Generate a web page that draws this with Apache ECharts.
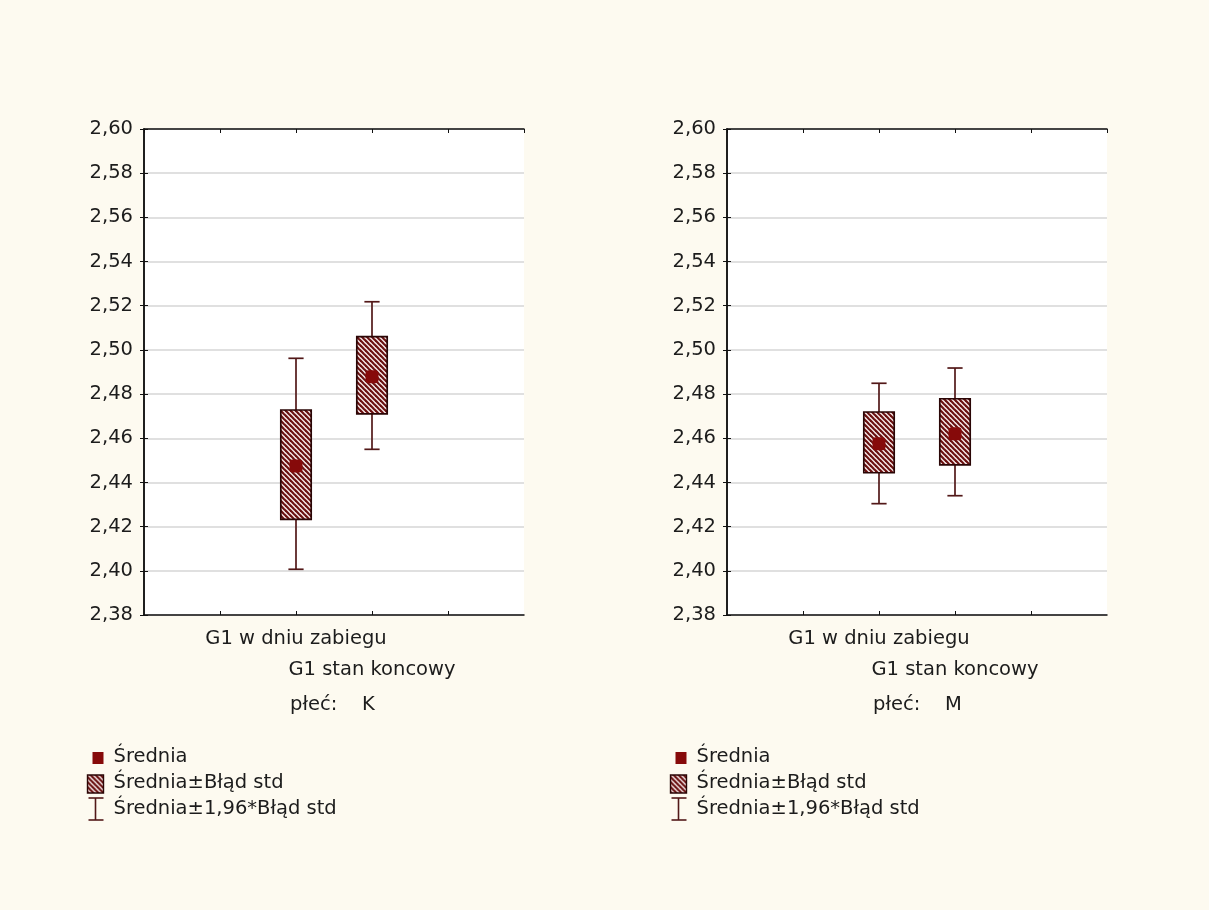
<!DOCTYPE html>
<html>
<head>
<meta charset="utf-8">
<script src="https://cdn.jsdelivr.net/npm/echarts@6/dist/echarts.min.js"></script>
<style>
  html, body { margin: 0; padding: 0; background: #fdfaf0; }
  #chart { width: 1209px; height: 910px; }
</style>
</head>
<body>
<div id="chart"></div>
<script>
// Variables shown on the x axis
const categories = ['G1 w dniu zabiegu', 'G1 stan koncowy'];
// Slots on the 0..5 x scale where the two variables sit
const categorySlots = [2, 3];
// Panels (grouping by sex)
const groups = ['K', 'M'];

// Group K: mean, mean ± std error, mean ± 1.96*std error
const meanK   = [2.4475, 2.4878];
const seLowK  = [2.4233, 2.4710];
const seHighK = [2.4728, 2.5060];
const ciLowK  = [2.4007, 2.4550];
const ciHighK = [2.4962, 2.5218];

// Group M
const meanM   = [2.4575, 2.4620];
const seLowM  = [2.4444, 2.4480];
const seHighM = [2.4719, 2.4779];
const ciLowM  = [2.4304, 2.4340];
const ciHighM = [2.4849, 2.4918];

// Y scale
const yMin = 2.38, yMax = 2.60, yStep = 0.02;

const legendLabels = ['Średnia', 'Średnia±Błąd std', 'Średnia±1,96*Błąd std'];
const groupLabel = 'płeć:';

const FONT = 'DejaVu Sans';
const FS = 19.5;
const MAROON = '#860a0a';
const OUTLINE = '#2a0606';
const WHISKER = '#521818';
const TEXT = '#1c1c1c';

// Diagonal hatch tile (stripes running top-left to bottom-right)
function makeHatch() {
  const s = 5;
  const c = document.createElement('canvas');
  c.width = s; c.height = s;
  const g = c.getContext('2d');
  g.fillStyle = '#f8eeee';
  g.fillRect(0, 0, s, s);
  g.strokeStyle = '#6a1010';
  g.lineWidth = 2.2;
  for (let k = -1; k <= 1; k++) {
    g.beginPath();
    g.moveTo(-1, k * s - 1);
    g.lineTo(s + 1, s + k * s + 1);
    g.stroke();
  }
  return c;
}
const hatch = { image: makeHatch(), repeat: 'repeat' };

const panels = [
  { left: 144, mean: meanK, seLow: seLowK, seHigh: seHighK, ciLow: ciLowK, ciHigh: ciHighK },
  { left: 727, mean: meanM, seLow: seLowM, seHigh: seHighM, ciLow: ciLowM, ciHigh: ciHighM }
];
const GRID_W = 380, GRID_TOP = 129, GRID_H = 486;

const grids = [], xAxes = [], yAxes = [], series = [], graphics = [];

const fmtY = v => v.toFixed(2).replace('.', ',');
const frameLine = { show: true, lineStyle: { color: '#111', width: 1.5 } };
const tickStyle = { show: true, inside: true, length: 4, lineStyle: { color: '#111', width: 1 } };

panels.forEach((p, i) => {
  grids.push({
    left: p.left, top: GRID_TOP, width: GRID_W, height: GRID_H,
    show: true, backgroundColor: '#ffffff', borderWidth: 0
  });

  // bottom x axis with the variable names (second name set one line lower)
  xAxes.push({
    gridIndex: i, type: 'value', min: 0, max: 5, interval: 1, position: 'bottom',
    axisLine: frameLine, splitLine: { show: false },
    axisTick: tickStyle,
    axisLabel: {
      show: true, margin: 14, showMinLabel: false, showMaxLabel: false,
      fontFamily: FONT, fontSize: FS, color: TEXT,
      formatter: v => {
        const idx = categorySlots.indexOf(v);
        if (idx < 0) return '';
        return (idx === 0 ? '{a|' : '{b|') + categories[idx] + '}';
      },
      rich: {
        a: { fontFamily: FONT, fontSize: FS, color: TEXT },
        b: { fontFamily: FONT, fontSize: FS, color: TEXT, padding: [31, 0, 0, 0] }
      }
    }
  });
  // top x axis, ticks only
  xAxes.push({
    gridIndex: i, type: 'value', min: 0, max: 5, interval: 1, position: 'top',
    axisLine: frameLine, splitLine: { show: false },
    axisTick: tickStyle, axisLabel: { show: false }
  });

  yAxes.push({
    gridIndex: i, type: 'value', min: yMin, max: yMax, interval: yStep, position: 'left',
    axisLine: frameLine,
    axisTick: tickStyle,
    splitLine: { show: true, lineStyle: { color: '#d6d6d6', width: 1.5 } },
    axisLabel: {
      show: true, margin: 11, fontFamily: FONT, fontSize: FS, color: TEXT,
      formatter: fmtY
    }
  });
  yAxes.push({
    gridIndex: i, type: 'value', min: yMin, max: yMax, interval: yStep, position: 'right',
    axisLine: frameLine, splitLine: { show: false },
    axisTick: tickStyle, axisLabel: { show: false }
  });

  const boxData = categorySlots.map((s, k) => [s, p.seLow[k], p.seHigh[k], p.ciLow[k], p.ciHigh[k]]);

  series.push({
    type: 'custom',
    xAxisIndex: i * 2, yAxisIndex: i * 2,
    data: boxData,
    z: 3,
    renderItem: (params, api) => {
      const x = api.value(0);
      const lo = api.coord([x, api.value(1)]);
      const hi = api.coord([x, api.value(2)]);
      const wLo = api.coord([x, api.value(3)]);
      const wHi = api.coord([x, api.value(4)]);
      const bw = api.size([0.4, 0])[0];
      const cap = bw / 2;
      const cx = lo[0];
      const wStyle = { stroke: WHISKER, lineWidth: 1.7 };
      return {
        type: 'group',
        children: [
          { type: 'line', shape: { x1: cx, y1: wHi[1], x2: cx, y2: hi[1] }, style: wStyle },
          { type: 'line', shape: { x1: cx, y1: lo[1], x2: cx, y2: wLo[1] }, style: wStyle },
          { type: 'line', shape: { x1: cx - cap / 2, y1: wHi[1], x2: cx + cap / 2, y2: wHi[1] }, style: wStyle },
          { type: 'line', shape: { x1: cx - cap / 2, y1: wLo[1], x2: cx + cap / 2, y2: wLo[1] }, style: wStyle },
          {
            type: 'rect',
            shape: { x: cx - bw / 2, y: hi[1], width: bw, height: lo[1] - hi[1] },
            style: { fill: hatch, stroke: OUTLINE, lineWidth: 1.7 }
          }
        ]
      };
    }
  });

  series.push({
    type: 'scatter',
    xAxisIndex: i * 2, yAxisIndex: i * 2,
    data: categorySlots.map((s, k) => [s, p.mean[k]]),
    symbol: 'roundRect', symbolSize: 13, z: 5,
    itemStyle: { color: MAROON, opacity: 1 },
    silent: true
  });

  // group caption under the axis
  graphics.push({
    type: 'text', left: p.left + 146, top: 695,
    style: { text: groupLabel + '    ' + groups[i], font: `${FS}px "${FONT}"`, fill: TEXT }
  });

  // legend block
  const lx = p.left - 58;
  const tStyle = t => ({ text: t, font: `${FS}px "${FONT}"`, fill: TEXT, verticalAlign: 'middle', textVerticalAlign: 'middle' });
  graphics.push({
    type: 'group', left: lx, top: 747,
    children: [
      { type: 'rect', shape: { x: 6, y: 1, width: 11, height: 12 }, style: { fill: MAROON } },
      { type: 'text', x: 27, y: 6, style: tStyle(legendLabels[0]) },
      { type: 'rect', shape: { x: 1, y: 24, width: 16, height: 18 }, style: { fill: hatch, stroke: OUTLINE, lineWidth: 1.4 } },
      { type: 'text', x: 27, y: 32, style: tStyle(legendLabels[1]) },
      { type: 'line', shape: { x1: 9, y1: 47, x2: 9, y2: 69 }, style: { stroke: WHISKER, lineWidth: 1.6 } },
      { type: 'line', shape: { x1: 2, y1: 47, x2: 17, y2: 47 }, style: { stroke: WHISKER, lineWidth: 1.6 } },
      { type: 'line', shape: { x1: 2, y1: 69, x2: 17, y2: 69 }, style: { stroke: WHISKER, lineWidth: 1.6 } },
      { type: 'text', x: 27, y: 58, style: tStyle(legendLabels[2]) }
    ]
  });
});

const chart = echarts.init(document.getElementById('chart'), null, { renderer: 'canvas' });
chart.setOption({
  backgroundColor: '#fdfaf0',
  animation: false,
  grid: grids,
  xAxis: xAxes,
  yAxis: yAxes,
  series: series,
  graphic: graphics
});
</script>
</body>
</html>
